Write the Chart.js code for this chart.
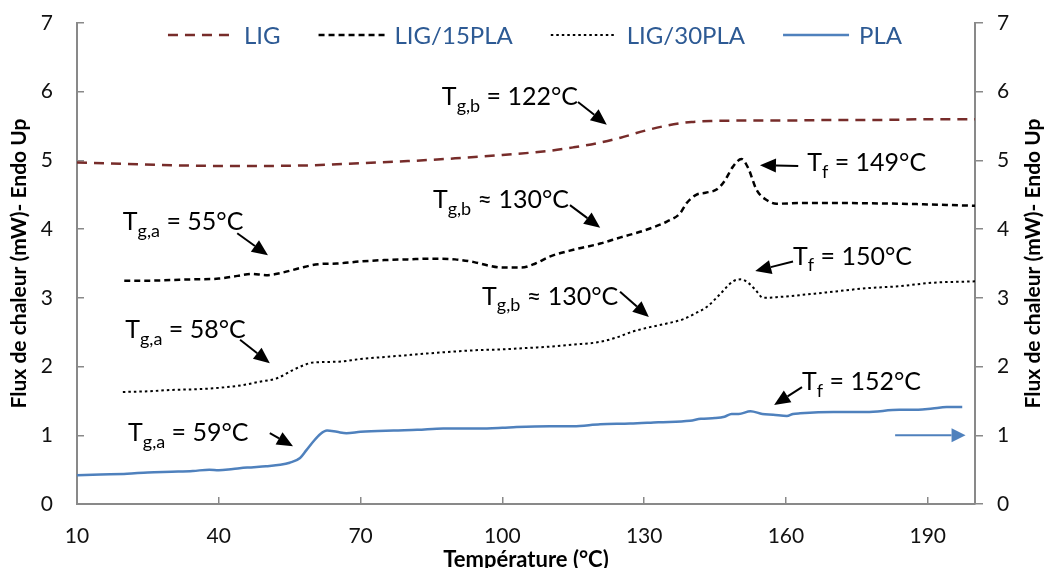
<!DOCTYPE html>
<html>
<head>
<meta charset="utf-8">
<script src="https://cdn.jsdelivr.net/npm/chart.js@4.4.0/dist/chart.umd.min.js"></script>
<style>
body{margin:0;background:#fff;}
</style>
</head>
<body>
<canvas id="dsc" width="1046" height="568"></canvas>
<script>
// DSC curves (temperature in °C, heat flow in mW)
var seriesNames = ['LIG', 'LIG/15PLA', 'LIG/30PLA', 'PLA'];

var tLIG = [10, 20, 30, 40, 50, 60, 70, 80, 90, 100, 110, 115, 120, 125, 130, 135, 140, 145, 150, 160, 170, 180, 190, 200];
var fLIG = [4.97, 4.95, 4.93, 4.92, 4.92, 4.93, 4.96, 4.99, 5.03, 5.08, 5.14, 5.19, 5.25, 5.33, 5.43, 5.51, 5.56, 5.575, 5.58, 5.58, 5.59, 5.59, 5.60, 5.60];

var tL15 = [20, 25, 30, 35, 40, 44, 47, 50, 53, 57, 61, 65, 70, 75, 80, 85, 90, 94, 97, 100, 104, 107, 110, 115, 120.7, 125, 130, 134.8, 137.6, 139, 141, 143, 145.4, 147, 148.8, 150.6, 152, 153.8, 156, 158, 163, 170, 184, 190, 200];
var fL15 = [3.25, 3.25, 3.26, 3.27, 3.28, 3.32, 3.35, 3.33, 3.36, 3.43, 3.49, 3.50, 3.53, 3.55, 3.56, 3.57, 3.56, 3.52, 3.47, 3.44, 3.44, 3.50, 3.60, 3.70, 3.79, 3.88, 3.98, 4.11, 4.23, 4.38, 4.50, 4.53, 4.58, 4.70, 4.91, 5.02, 4.89, 4.57, 4.42, 4.37, 4.38, 4.38, 4.37, 4.36, 4.34];

var tL30 = [19.7, 25, 30, 35, 40, 45, 48.7, 52.3, 55.7, 58, 60, 65, 70, 77, 84, 90, 95, 100, 105, 110, 115, 120.7, 124, 127.6, 131, 135, 138.3, 141, 143.3, 146, 148.8, 150.5, 152, 153.5, 155.2, 158, 163, 170, 177, 184, 191, 200];
var fL30 = [1.63, 1.64, 1.66, 1.67, 1.69, 1.73, 1.78, 1.83, 1.95, 2.02, 2.06, 2.07, 2.11, 2.15, 2.19, 2.22, 2.24, 2.25, 2.27, 2.29, 2.32, 2.36, 2.42, 2.51, 2.57, 2.63, 2.69, 2.78, 2.87, 3.05, 3.24, 3.27, 3.22, 3.12, 3.00, 3.01, 3.04, 3.09, 3.14, 3.17, 3.22, 3.24];

var tPLA = [10, 15, 20.6, 25, 30, 34.5, 38, 40, 43, 46, 50, 53, 55, 57.2, 58.5, 60, 61.5, 62.9, 65, 67, 70, 77, 82, 87.5, 95, 100, 103, 110, 115, 120.7, 127, 133, 139.7, 142, 145, 147, 148.5, 150, 152.5, 155, 157.3, 160.2, 161.5, 163, 170, 177, 184, 188, 191, 194, 197.3];
var fPLA = [0.42, 0.43, 0.44, 0.46, 0.47, 0.48, 0.50, 0.49, 0.51, 0.53, 0.55, 0.57, 0.60, 0.67, 0.78, 0.91, 1.02, 1.07, 1.05, 1.03, 1.05, 1.07, 1.08, 1.10, 1.10, 1.11, 1.12, 1.13, 1.13, 1.16, 1.17, 1.19, 1.21, 1.24, 1.25, 1.27, 1.31, 1.31, 1.35, 1.31, 1.30, 1.28, 1.31, 1.32, 1.34, 1.34, 1.37, 1.37, 1.39, 1.41, 1.41];

var xTicks = [10, 40, 70, 100, 130, 160, 190];

// annotations in data units: text anchor (left, middle) and arrow from -> to
var notes = [
  {main: 'T', sub: 'g,b', rest: ' = 122°C', x: 87.2, y: 5.92, from: [116.0, 5.85], to: [122.1, 5.52]},
  {main: 'T', sub: 'g,b', rest: ' ≈ 130°C', x: 85.3, y: 4.42, from: [114.3, 4.35], to: [120.7, 4.02]},
  {main: 'T', sub: 'f', rest: ' = 149°C', x: 164.5, y: 4.96, from: [162.6, 4.92], to: [154.5, 4.93]},
  {main: 'T', sub: 'g,a', rest: ' = 55°C', x: 19.7, y: 4.10, from: [43.9, 3.94], to: [50.4, 3.62]},
  {main: 'T', sub: 'f', rest: ' = 150°C', x: 161.5, y: 3.60, from: [161.5, 3.53], to: [153.5, 3.39]},
  {main: 'T', sub: 'g,b', rest: ' ≈ 130°C', x: 95.7, y: 3.02, from: [124.9, 3.09], to: [131.0, 2.72]},
  {main: 'T', sub: 'g,a', rest: ' = 58°C', x: 20.2, y: 2.53, from: [44.5, 2.39], to: [50.8, 2.05]},
  {main: 'T', sub: 'g,a', rest: ' = 59°C', x: 20.8, y: 1.03, from: [50.8, 1.03], to: [55.7, 0.84]},
  {main: 'T', sub: 'f', rest: ' = 152°C', x: 163.4, y: 1.77, from: [163.4, 1.70], to: [157.5, 1.44]}
];
var plaArrow = {from: [183.1, 1.0], to: [198.0, 1.0]};

var FONT = 'Lato, "Open Sans", sans-serif';
var AXIS = '#898989';

function pts(xs, ys) {
  return xs.map(function (x, i) { return {x: x, y: ys[i]}; });
}

function arrow(ctx, x1, y1, x2, y2, color, w, headL, headW) {
  var a = Math.atan2(y2 - y1, x2 - x1);
  var bx = x2 - Math.cos(a) * headL, by = y2 - Math.sin(a) * headL;
  ctx.save();
  ctx.strokeStyle = color; ctx.fillStyle = color; ctx.lineWidth = w;
  ctx.setLineDash([]);
  ctx.beginPath(); ctx.moveTo(x1, y1); ctx.lineTo(bx, by); ctx.stroke();
  ctx.beginPath();
  ctx.moveTo(x2, y2);
  ctx.lineTo(bx + Math.sin(a) * headW / 2, by - Math.cos(a) * headW / 2);
  ctx.lineTo(bx - Math.sin(a) * headW / 2, by + Math.cos(a) * headW / 2);
  ctx.closePath(); ctx.fill();
  ctx.restore();
}

// the inside tick marks need a big label padding; don't let it eat the top of the plot
function fixVertical(width) {
  return function (s) {
    s.width = width;
    s.paddingTop = 10;
    s.paddingBottom = 10;
  };
}

var extras = {
  id: 'extras',
  afterDatasetsDraw: function (chart) {
    var ctx = chart.ctx, xs = chart.scales.x, ys = chart.scales.y;
    var area = chart.chartArea;

    // annotations
    notes.forEach(function (n) {
      var px = xs.getPixelForValue(n.x), py = ys.getPixelForValue(n.y);
      ctx.save();
      ctx.fillStyle = '#000';
      ctx.textBaseline = 'middle';
      ctx.textAlign = 'left';
      ctx.font = '25px ' + FONT;
      ctx.fillText(n.main, px, py);
      var w1 = ctx.measureText(n.main).width;
      ctx.font = '18px ' + FONT;
      ctx.fillText(n.sub, px + w1, py + 9);
      var w2 = ctx.measureText(n.sub).width;
      ctx.font = '25px ' + FONT;
      ctx.fillText(n.rest, px + w1 + w2, py);
      ctx.restore();
      arrow(ctx, xs.getPixelForValue(n.from[0]), ys.getPixelForValue(n.from[1]),
        xs.getPixelForValue(n.to[0]), ys.getPixelForValue(n.to[1]), '#000', 2, 16, 14);
    });
    arrow(ctx, xs.getPixelForValue(plaArrow.from[0]), ys.getPixelForValue(plaArrow.from[1]),
      xs.getPixelForValue(plaArrow.to[0]), ys.getPixelForValue(plaArrow.to[1]), '#4F81BD', 2, 14, 14);

    // legend across the top of the plot
    ctx.save();
    ctx.font = '24px ' + FONT;
    var lineW = 66, gapT = 10, gapI = 38;
    var total = 0;
    chart.data.datasets.forEach(function (d, i) {
      total += lineW + gapT + ctx.measureText(d.label).width + (i ? gapI : 0);
    });
    var cx = (area.left + area.right) / 2 + 9 - total / 2;
    var ly = area.top + 12;
    chart.data.datasets.forEach(function (d) {
      ctx.strokeStyle = d.borderColor;
      ctx.lineWidth = d.borderWidth;
      ctx.setLineDash(d.borderDash || []);
      ctx.beginPath(); ctx.moveTo(cx, ly); ctx.lineTo(cx + lineW, ly); ctx.stroke();
      cx += lineW + gapT;
      ctx.fillStyle = '#2D5A94';
      ctx.textBaseline = 'middle';
      ctx.fillText(d.label, cx, ly + 1);
      cx += ctx.measureText(d.label).width + gapI;
    });
    ctx.restore();
  },
  afterDraw: function (chart) {
    // right-hand axis title, reading bottom to top like the left one
    var ctx = chart.ctx, r = chart.scales.y1;
    ctx.save();
    ctx.translate(1033, (r.top + r.bottom) / 2);
    ctx.rotate(-Math.PI / 2);
    ctx.font = 'bold 21px ' + FONT;
    ctx.fillStyle = '#000';
    ctx.textAlign = 'center';
    ctx.textBaseline = 'middle';
    ctx.fillText('Flux de chaleur (mW)- Endo Up', 0, 0);
    ctx.restore();
  }
};

Chart.defaults.font.family = FONT;

new Chart(document.getElementById('dsc'), {
  type: 'line',
  data: {
    datasets: [
      {label: seriesNames[0], data: pts(tLIG, fLIG), borderColor: '#772C2A', borderWidth: 2.5, borderDash: [10, 7]},
      {label: seriesNames[1], data: pts(tL15, fL15), borderColor: '#000000', borderWidth: 2.5, borderDash: [6, 4]},
      {label: seriesNames[2], data: pts(tL30, fL30), borderColor: '#000000', borderWidth: 2, borderDash: [2.5, 3]},
      {label: seriesNames[3], data: pts(tPLA, fPLA), borderColor: '#4F81BD', borderWidth: 2.5}
    ]
  },
  options: {
    responsive: false,
    animation: false,
    devicePixelRatio: 1,
    layout: {padding: {top: 23, left: 0, right: 0, bottom: 0}},
    elements: {
      point: {radius: 0},
      line: {cubicInterpolationMode: 'monotone', fill: false}
    },
    plugins: {legend: {display: false}, tooltip: {enabled: false}},
    scales: {
      x: {
        type: 'linear', min: 10, max: 200,
        afterBuildTicks: function (s) { s.ticks = xTicks.map(function (v) { return {value: v}; }); },
        afterFit: function (s) { s.height = 64; },
        grid: {drawOnChartArea: false, drawTicks: true, tickLength: -7, color: AXIS, lineWidth: 1.5},
        border: {color: AXIS, width: 2},
        ticks: {padding: 27, color: '#111', font: {size: 21}, maxRotation: 0},
        title: {display: true, text: 'Température (°C)', color: '#000', font: {size: 22, weight: 'bold'}, padding: {top: 0, bottom: -5}}
      },
      y: {
        position: 'left', min: 0, max: 7,
        afterFit: fixVertical(77),
        grid: {drawOnChartArea: false, drawTicks: true, tickLength: -7, color: AXIS, lineWidth: 1.5},
        border: {color: AXIS, width: 2},
        ticks: {stepSize: 1, padding: 31, color: '#111', font: {size: 21}},
        title: {display: true, text: 'Flux de chaleur (mW)- Endo Up', color: '#000', font: {size: 21, weight: 'bold'}, padding: {top: 7, bottom: 0}}
      },
      y1: {
        position: 'right', min: 0, max: 7,
        afterFit: fixVertical(71),
        grid: {drawOnChartArea: false, drawTicks: true, tickLength: 8, color: AXIS, lineWidth: 1.5},
        border: {color: AXIS, width: 2},
        ticks: {stepSize: 1, padding: 14, color: '#111', font: {size: 21}}
      }
    }
  },
  plugins: [extras]
});
</script>
</body>
</html>
